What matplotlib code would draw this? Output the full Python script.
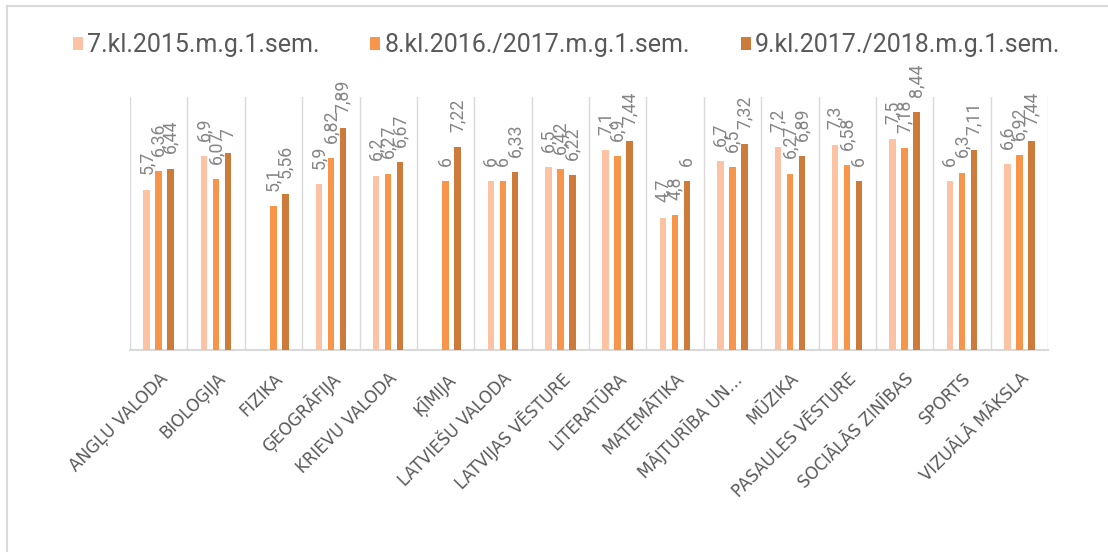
import numpy as np
import matplotlib
matplotlib.use("Agg")
import matplotlib.pyplot as plt
from matplotlib.patches import Patch
from matplotlib.lines import Line2D

# dati
kategorijas = ["ANGĻU VALODA", "BIOLOĢIJA", "FIZIKA", "ĢEOGRĀFIJA", "KRIEVU VALODA",
               "ĶĪMIJA", "LATVIEŠU VALODA", "LATVIJAS VĒSTURE", "LITERATŪRA",
               "MATEMĀTIKA", "MĀJTURĪBA UN…", "MŪZIKA", "PASAULES VĒSTURE",
               "SOCIĀLĀS ZINĪBAS", "SPORTS", "VIZUĀLĀ MĀKSLA"]
serijas = ["7.kl.2015.m.g.1.sem.", "8.kl.2016./2017.m.g.1.sem.", "9.kl.2017./2018.m.g.1.sem."]
kl7 = [5.7, 6.9, np.nan, 5.9, 6.2, np.nan, 6, 6.5, 7.1, 4.7, 6.7, 7.2, 7.3, 7.5, 6, 6.6]
kl8 = [6.36, 6.07, 5.1, 6.82, 6.27, 6, 6, 6.42, 6.9, 4.8, 6.5, 6.27, 6.58, 7.18, 6.3, 6.92]
kl9 = [6.44, 7, 5.56, 7.89, 6.67, 7.22, 6.33, 6.22, 7.44, 6, 7.32, 6.89, 6, 8.44, 7.11, 7.44]
krasas = ["#FBC3A3", "#F7964A", "#CD7B3B"]

SAURS = ["Roboto", "DejaVu Sans"]
PLATS = ["DejaVu Sans"]

fig = plt.figure(figsize=(11.08, 5.52), dpi=100)
ax = fig.add_axes([130 / 1108, 1 - 350 / 552, 918 / 1108, (350 - 96.7) / 552])

x = np.arange(len(kategorijas))
w = 0.112
nobide = [-0.209, 0, 0.209]

for vert, kr, nb in zip([kl7, kl8, kl9], krasas, nobide):
    v = np.array(vert, dtype=float)
    m = ~np.isnan(v)
    ax.bar(x[m] + nb, v[m], w, color=kr, zorder=3)
    for xi, yi in zip(x[m] + nb, v[m]):
        ax.annotate(f"{yi:g}".replace(".", ","), (xi, yi), xytext=(0, 11),
                    textcoords="offset points", rotation=90, ha="center", va="bottom",
                    fontsize=12.8, color="#858585", family=SAURS)

# vertikālās režģa līnijas starp kategorijām
for g in np.arange(-0.5, len(kategorijas), 1):
    ax.axvline(g, color="#D9D9D9", lw=1.0, zorder=1)

ax.set_xlim(-0.5, len(kategorijas) - 0.5)
ax.set_ylim(0, 9)
ax.set_yticks([])
for s in ["top", "right", "left"]:
    ax.spines[s].set_visible(False)
ax.spines["bottom"].set_color("#D9D9D9")
ax.spines["bottom"].set_linewidth(1.5)

ax.set_xticks(x)
ax.set_xticklabels(kategorijas, rotation=45, ha="right", va="top",
                   rotation_mode="anchor", fontsize=12, color="#595959", family=PLATS)
ax.tick_params(axis="x", length=0, pad=14)

rokt = [Patch(facecolor=k, edgecolor="none") for k in krasas]
fig.legend(rokt, serijas, loc="center", bbox_to_anchor=(0.5113, 0.918), ncol=3,
           frameon=False, prop={"family": SAURS, "size": 18},
           handlelength=0.4, handleheight=0.4, handletextpad=0.16,
           columnspacing=2.04, borderpad=0, labelcolor="#595959")

# ārējais rāmis (redzama tikai augšējā un kreisā mala)
fig.add_artist(Line2D([7 / 1108, 1], [1 - 6 / 552, 1 - 6 / 552], color="#D9D9D9", lw=1.5,
                      transform=fig.transFigure))
fig.add_artist(Line2D([7 / 1108, 7 / 1108], [0, 1 - 6 / 552], color="#D9D9D9", lw=1.5,
                      transform=fig.transFigure))

fig.savefig("out.png", dpi=100)
